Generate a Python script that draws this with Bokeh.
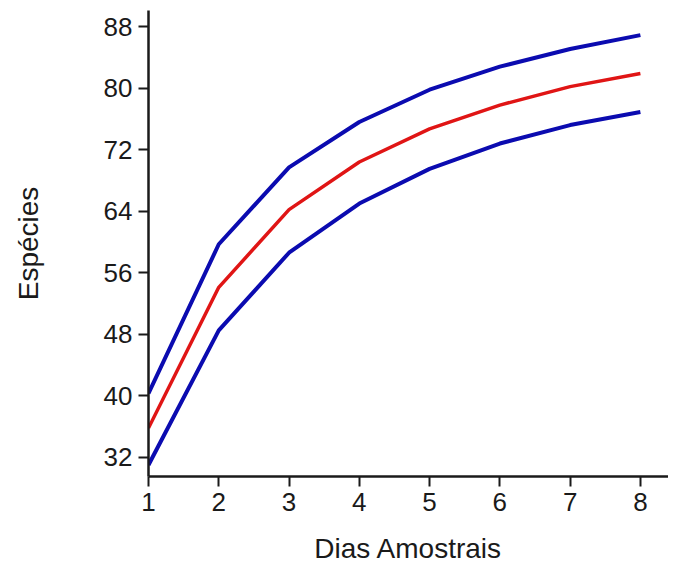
from bokeh.plotting import figure
from bokeh.models import Range1d, FixedTicker
from bokeh.embed import file_html
from bokeh.resources import INLINE

dias = [1, 2, 3, 4, 5, 6, 7, 8]
superior = [40.3, 59.7, 69.7, 75.6, 79.8, 82.8, 85.1, 86.9]
media = [35.8, 54.1, 64.2, 70.4, 74.7, 77.8, 80.2, 81.9]
inferior = [31.0, 48.5, 58.6, 65.0, 69.5, 72.8, 75.2, 76.9]
y_ticks = [32, 40, 48, 56, 64, 72, 80, 88]
x_ticks = [1, 2, 3, 4, 5, 6, 7, 8]

p = figure(frame_width=520, frame_height=466, output_backend="svg", toolbar_location=None,
           x_range=Range1d(1, 8.4), y_range=Range1d(29.5, 90.1),
           min_border_left=148, min_border_right=0, min_border_top=10, min_border_bottom=0)
p.outline_line_color = None
p.xgrid.grid_line_color = None
p.ygrid.grid_line_color = None

blue = "#0b0bb0"
red = "#e01515"
p.line(dias, superior, line_color=blue, line_width=4)
p.line(dias, media, line_color=red, line_width=3.5)
p.line(dias, inferior, line_color=blue, line_width=4)

for ax in (p.xaxis[0], p.yaxis[0]):
    ax.axis_line_width = 2.5
    ax.axis_line_color = "#1a1a1a"
    ax.major_tick_line_width = 2
    ax.major_tick_line_color = "#1a1a1a"
    ax.major_tick_out = 10
    ax.major_tick_in = 0
    ax.minor_tick_line_color = None
    ax.major_label_text_font = "Liberation Sans"
    ax.major_label_text_font_size = "26px"
    ax.major_label_text_color = "#1a1a1a"
    ax.axis_label_text_font = "Liberation Sans"
    ax.axis_label_text_font_size = "28px"
    ax.axis_label_text_font_style = "normal"
    ax.axis_label_text_color = "#1a1a1a"

p.xaxis.ticker = FixedTicker(ticks=x_ticks)
p.yaxis.ticker = FixedTicker(ticks=y_ticks)
p.xaxis.axis_label = "Dias Amostrais"
p.yaxis.axis_label = "Espécies"
p.xaxis.major_label_standoff = 6
p.xaxis.axis_label_standoff = 19
p.yaxis.major_label_standoff = 6
p.yaxis.axis_label_standoff = 57

open("out.html", "w").write(file_html(p, INLINE))
